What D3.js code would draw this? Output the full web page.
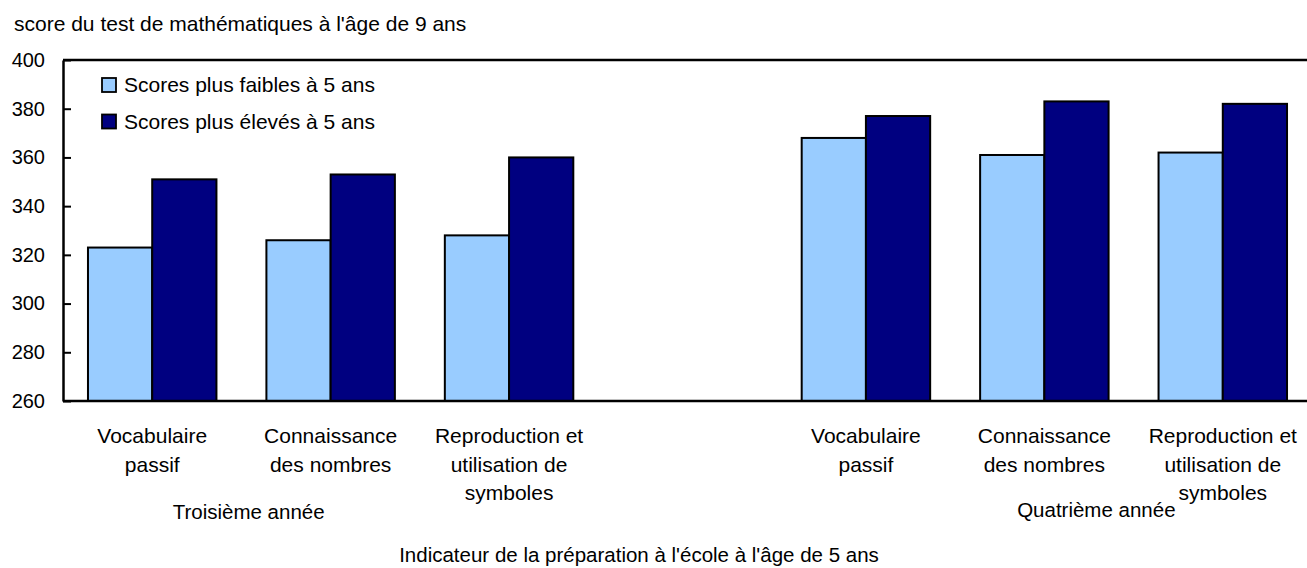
<!DOCTYPE html>
<html>
<head>
<meta charset="utf-8">
<script src="https://cdn.jsdelivr.net/npm/d3@7"></script>
<style>
  body { margin: 0; background: #fff; }
  svg { display: block; font-family: "Liberation Sans", Arial, Helvetica, sans-serif; }
</style>
</head>
<body>
<svg id="chart" width="1307" height="568"></svg>
<script>
// data
const years = ["Troisième année", "Quatrième année"];
const indicators = [
    ["Vocabulaire", "passif"],
    ["Connaissance", "des nombres"],
    ["Reproduction et", "utilisation de", "symboles"]
];
const seriesNames = ["Scores plus faibles à 5 ans", "Scores plus élevés à 5 ans"];
const seriesColors = ["#99ccff", "#000080"];
// per year, per indicator
const lowScores = [[323, 326, 328], [368, 361, 362]];
const highScores = [[351, 353, 360], [377, 383, 382]];
const yTicks = [260, 280, 300, 320, 340, 360, 380, 400];

const svg = d3.select('#chart');
const plotLeft = 63, plotTop = 60, plotBottom = 401, plotRight = 1312;
const fontSize = '21px';

// 7 slots: 3 indicators, a blank slot, 3 indicators
const slots = [];
years.forEach((yr, yi) => {
    if (yi > 0) slots.push({ key: 'gap' });
    indicators.forEach((ind, ii) => {
        slots.push({ key: yi + '-' + ii, year: yi, ind: ii,
            values: [lowScores[yi][ii], highScores[yi][ii]] });
    });
});

const x = d3.scaleBand()
    .domain(slots.map(d => d.key))
    .range([plotLeft, plotRight])
    .paddingInner(0.28)
    .paddingOuter(0.14);

const xs = d3.scaleBand()
    .domain([0, 1])
    .range([0, x.bandwidth()]);

const y = d3.scaleLinear()
    .domain([260, 400])
    .range([plotBottom, plotTop]);

// y axis title
svg.append('text')
    .attr('x', 14).attr('y', 31)
    .style('font-size', fontSize)
    .text("score du test de mathématiques à l'âge de 9 ans");

// bars
const groups = svg.selectAll('g.grp')
    .data(slots.filter(d => d.values))
    .join('g')
    .attr('class', 'grp')
    .attr('transform', d => `translate(${x(d.key)},0)`);

groups.selectAll('rect')
    .data(d => d.values)
    .join('rect')
    .attr('x', (d, i) => xs(i))
    .attr('y', d => y(d))
    .attr('width', xs.bandwidth())
    .attr('height', d => y(260) - y(d))
    .attr('fill', (d, i) => seriesColors[i])
    .attr('stroke', 'black')
    .attr('stroke-width', 2);

// frame: top and bottom lines, left axis
svg.append('line')
    .attr('x1', plotLeft).attr('x2', 1307)
    .attr('y1', plotTop).attr('y2', plotTop)
    .attr('stroke', 'black').attr('stroke-width', 2.5);
svg.append('line')
    .attr('x1', plotLeft).attr('x2', 1307)
    .attr('y1', plotBottom).attr('y2', plotBottom)
    .attr('stroke', 'black').attr('stroke-width', 2.5);

const yAxis = svg.append('g')
    .attr('transform', `translate(${plotLeft},0)`)
    .call(d3.axisLeft(y).tickValues(yTicks).tickSizeInner(-8).tickSizeOuter(0).tickPadding(18));
yAxis.select('.domain').attr('stroke-width', 2.5);
yAxis.selectAll('.tick line').attr('stroke-width', 2);
yAxis.selectAll('.tick text')
    .style('font-size', '20px')
    .attr('fill', 'black')
    .attr('font-family', '"Liberation Sans", Arial, sans-serif');

// legend
const legend = svg.append('g').attr('transform', 'translate(102,78)');
seriesNames.forEach((name, i) => {
    const g = legend.append('g').attr('transform', `translate(0,${i * 36.5})`);
    g.append('rect')
        .attr('width', 14).attr('height', 14)
        .attr('fill', seriesColors[i])
        .attr('stroke', 'black').attr('stroke-width', 1.8);
    g.append('text')
        .attr('x', 22).attr('y', 14)
        .style('font-size', fontSize)
        .text(name);
});

// category labels, centred under each pair of bars
const lineH = 28.5;
slots.filter(d => d.values).forEach(d => {
    const t = svg.append('text')
        .attr('text-anchor', 'middle')
        .style('font-size', fontSize);
    indicators[d.ind].forEach((ln, li) => {
        t.append('tspan')
            .attr('x', x(d.key) + x.bandwidth() / 2)
            .attr('y', 443 + li * lineH)
            .text(ln);
    });
});

// year labels
const yearShift = [-82, 52];
years.forEach((yr, yi) => {
    const first = slots.find(d => d.year === yi && d.ind === 0);
    const last = slots.find(d => d.year === yi && d.ind === 2);
    const cx = (x(first.key) + x(last.key) + x.bandwidth()) / 2;
    svg.append('text')
        .attr('x', cx + yearShift[yi])
        .attr('y', 519 - yi * 2)
        .attr('text-anchor', 'middle')
        .style('font-size', '20.5px')
        .text(yr);
});

// x axis title
svg.append('text')
    .attr('x', 639).attr('y', 562)
    .attr('text-anchor', 'middle')
    .style('font-size', '20.5px')
    .text("Indicateur de la préparation à l'école à l'âge de 5 ans");
</script>
</body>
</html>
